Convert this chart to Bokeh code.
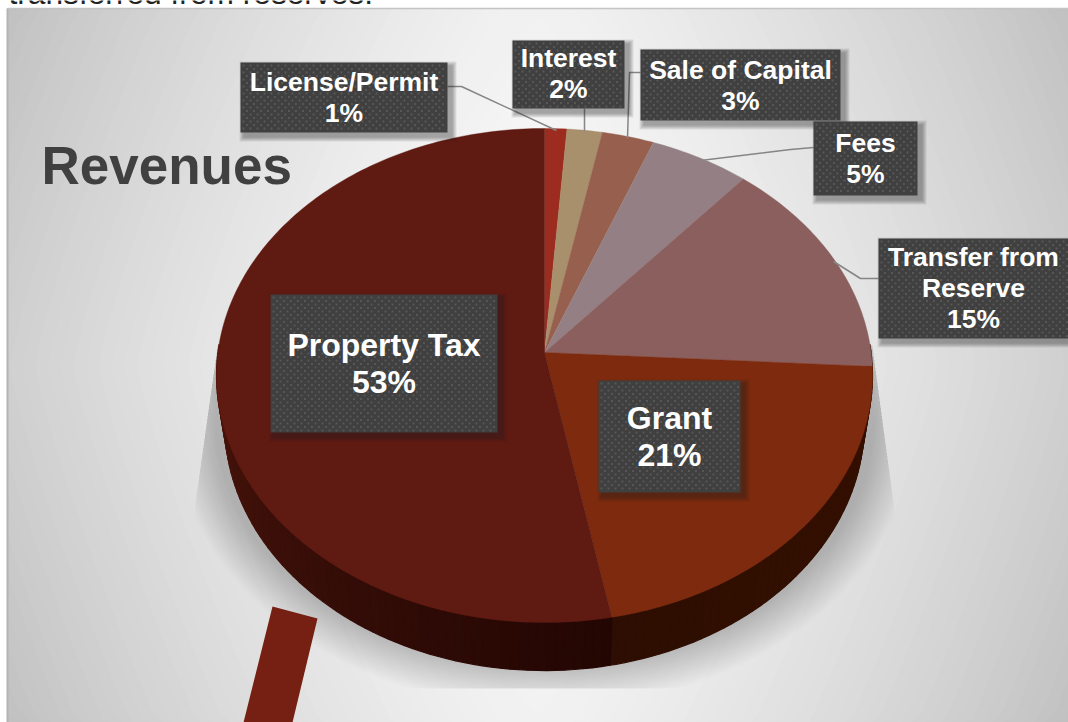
import numpy as np
from bokeh.plotting import figure
from bokeh.models import Range1d
from bokeh.embed import file_html
from bokeh.resources import INLINE
from bokeh.core.properties import value

categories = ["License/Permit", "Interest", "Sale of Capital", "Fees", "Transfer from Reserve", "Grant", "Property Tax"]
revenue_share = [1.2, 1.9, 2.8, 5.4, 14.6, 21.1, 53.0]
shown_percent = ["1%", "2%", "3%", "5%", "15%", "21%", "53%"]
slice_colors = ["#9c2c1f", "#a9906c", "#97604e", "#948084", "#8a5f5e", "#7e2a0e", "#5f1a12"]

W, H = 1068, 722
p = figure(width=W, height=H, x_range=Range1d(0, W), y_range=Range1d(H, 0),
           x_axis_type=None, y_axis_type=None, toolbar_location=None,
           output_backend="svg", min_border=0, outline_line_color=None,
           margin=(0, 0, 0, 0), background_fill_color="white")
p.grid.visible = False

L, T = 7.0, 8.0

# background: rounded-diamond radial gradient as nested clipped contours
t_bg = np.linspace(0, 2 * np.pi, 241)
pw = 2 / 1.2
p.quad(left=[L], right=[W], top=[T], bottom=[H], fill_color="#bcbcbc", line_color=None)
for d in np.arange(1.25, 0.02, -0.018):
    c, s = np.cos(t_bg), np.sin(t_bg)
    ex = np.clip(537 + d * 707 * np.sign(c) * np.abs(c) ** pw, L, W)
    ey = np.clip(365 + d * 1440 * np.sign(s) * np.abs(s) ** pw, T, H)
    g = int(round(np.clip(250 - 56 * (d / 0.913) ** 1.5, 186, 250)))
    p.patch(ex, ey, fill_color="#%02x%02x%02x" % (g, g, g), line_color=None)
p.line([L, L], [T, H], line_color="#b4b4b4", line_width=2)
p.line([L, W], [T, T], line_color="#c4c4c4", line_width=1.5)

# clipped caption above the panel
p.text([8], [-8], text=["transferred from reserves."], text_font=value("Liberation Sans"),
       text_font_size="31.7px", text_color="#222222", text_baseline="middle")

CX, CY, A, B, K = 544.0, 352.0, 326.6, 244.9, 0.0931
DEPTH = 48.0
WALL_X = 0.975


def proj(theta_deg):
    t = np.radians(theta_deg)
    u, v = np.sin(t), -np.cos(t)
    w = 1 - K * v
    return CX + A * u / w, CY + B * v / w


# soft shadow under the pie, clipped to slanted sides and a hard floor
th = np.radians(np.linspace(0, 360, 241))
N = 26
for i in range(N):
    f = i / (N - 1)
    rx = 372 - 42 * f
    ry = 288 - 38 * f
    sx = 544 + rx * np.sin(th)
    sy = 420 + ry * np.cos(th)
    sy = np.clip(sy, 345, 688)
    xl = np.where(sy < 515, 217 + (sy - 345) * (193 - 217) / 170, 193)
    xr = np.where(sy < 515, 872 + (sy - 345) * (895 - 872) / 170, 895)
    sx = np.minimum(np.maximum(sx, xl), xr)
    p.patch(sx, sy, fill_color="black", fill_alpha=0.0085, line_color=None)

edges = np.concatenate([[0], np.cumsum(revenue_share)]) / sum(revenue_share) * 360


def lerp(c0, c1, t):
    a = [int(c0[i:i + 2], 16) for i in (1, 3, 5)]
    b = [int(c1[i:i + 2], 16) for i in (1, 3, 5)]
    return "#%02x%02x%02x" % tuple(int(round(a[i] + (b[i] - a[i]) * t)) for i in range(3))


# side wall, shaded in narrow strips
wall_x, wall_y, wall_c = [], [], []
for a0, a1, c0, c1 in [(88.0, edges[5], "#351000", "#351000"), (edges[5], edges[6], "#351000", "#2e0e02"),
                       (edges[6], 272.0, "#230603", "#4a150c")]:
    grid = np.append(np.arange(a0, a1, 1.5), a1)
    for j in range(len(grid) - 1):
        x0, y0 = proj(grid[j])
        x1, y1 = proj(grid[j + 1])
        f = j / max(1, len(grid) - 2)
        wall_x.append([x0, x1, CX + (x1 - CX) * WALL_X, CX + (x0 - CX) * WALL_X])
        wall_y.append([y0, y1, y1 + DEPTH, y0 + DEPTH])
        wall_c.append(lerp(c0, c1, f))
p.patches(wall_x, wall_y, fill_color=wall_c, line_color=wall_c, line_width=1.2)

# top face slices
xs, ys = [], []
for i in range(len(revenue_share)):
    t = np.linspace(edges[i], edges[i + 1], max(3, int(edges[i + 1] - edges[i]) + 2))
    x, y = proj(t)
    xs.append(np.concatenate([[CX], x]).tolist())
    ys.append(np.concatenate([[CY], y]).tolist())
p.patches(xs, ys, fill_color=slice_colors, line_color=slice_colors, line_width=0.4)

# pointer bar at the bottom
p.patch([272, 317, 292, 243], [606, 618, 722, 722], fill_color="#752013", line_color=None)

# leader lines
leaders = [([447, 461, 556], [86, 86, 130]), ([584, 584], [108, 131]), ([640, 629, 627], [72, 72, 138]),
           ([813, 790, 700], [147, 149, 160]), ([878, 860, 833], [278, 278, 261])]
for lx, ly in leaders:
    p.line(lx, ly, line_color="#858585", line_width=1.5)

boxes = [(240, 62, 447, 132), (512, 40, 624, 108), (640, 49, 840, 120), (813, 121, 917, 195),
         (878, 238, 1068, 338), (598, 380, 740, 492), (270, 294, 497, 432)]
label_lines = [["License/Permit"], ["Interest"], ["Sale of Capital"], ["Fees"],
               ["Transfer from", "Reserve"], ["Grant"], ["Property Tax"]]
sizes = [26.5, 26.5, 26.5, 26.5, 26.5, 32, 32]
steps = [31, 31, 31, 31, 31, 37, 37]
offs = [0, -1, 0, 0, -1, 0, 0]
for i, (x0, y0, x1, y1) in enumerate(boxes):
    for s in range(5):
        e = 5 - s
        p.quad(left=[x0 + 4 - e], right=[x1 + 4 + e], top=[y0 + 4 - e], bottom=[y1 + 4 + e],
               fill_color="#202020", fill_alpha=0.09, line_color=None)
    p.quad(left=[x0], right=[x1], top=[y0], bottom=[y1], fill_color="#404040", line_color=None)
    dx, dy = [], []
    for r, yy_ in enumerate(np.arange(y0 + 3, y1 - 1, 3.5)):
        for xx_ in np.arange(x0 + 3 + (r % 2) * 3.5, x1 - 1, 7.0):
            dx.append(float(xx_))
            dy.append(float(yy_))
    p.scatter(dx, dy, size=1.8, marker="square", fill_color="#5a5a5a", line_color=None)
    lines = label_lines[i] + [shown_percent[i]]
    n = len(lines)
    cy = (y0 + y1) / 2 + offs[i]
    ty = [cy + (k - (n - 1) / 2) * steps[i] for k in range(n)]
    p.text([(x0 + x1) / 2] * n, ty, text=lines, text_font=value("Liberation Sans"),
           text_font_style="bold", text_font_size=f"{sizes[i]}px", text_color="white",
           text_align="center", text_baseline="middle")

p.text([41], [165], text=["Revenues"], text_font=value("Liberation Sans"), text_font_style="bold",
       text_font_size="53px", text_color="#404040", text_baseline="middle")

open("out.html", "w").write(file_html(p, INLINE))
